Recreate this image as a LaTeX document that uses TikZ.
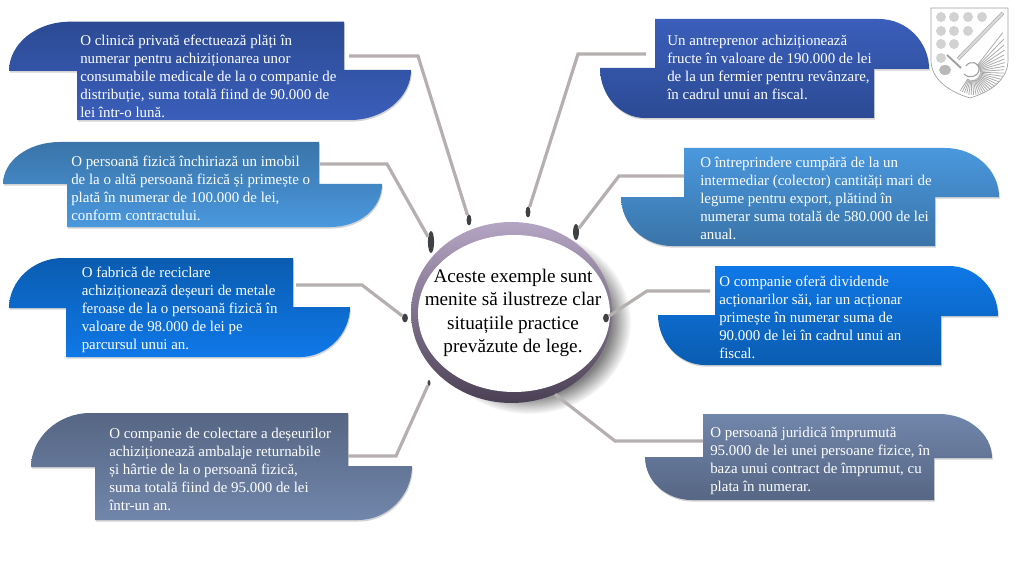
\documentclass[tikz,border=0pt]{standalone}
\usepackage{fontspec}
\setmainfont{Liberation Serif}
\usetikzlibrary{shapes.geometric,shadows,fadings}
\definecolor{darkA}{HTML}{2C4A94}
\definecolor{darkB}{HTML}{3A5EBA}
\definecolor{skyA}{HTML}{3A74A8}
\definecolor{skyB}{HTML}{4A98DE}
\definecolor{deepA}{HTML}{0A5CB0}
\definecolor{deepB}{HTML}{0F78E8}
\definecolor{slateA}{HTML}{566684}
\definecolor{slateB}{HTML}{7186AB}
\definecolor{linkgray}{HTML}{B6AFAF}
\definecolor{dotgray}{HTML}{3F4245}
\definecolor{ringA}{HTML}{B5A5C4}
\definecolor{ringB}{HTML}{4A4054}
\tikzset{
  callout/.style={drop shadow={shadow xshift=.6pt,shadow yshift=-1.2pt,opacity=.35}},
  boxtext/.style={anchor=north west,align=left,inner sep=0pt,text=white,font=\fontsize{11.2}{13.5}\selectfont},
  link/.style={draw=linkgray,line width=2.4pt,line join=miter},
  dotmark/.style={draw=none,fill=dotgray,ellipse,inner sep=0pt},
  crest/.style={draw=gray!75,line width=.5pt},
  feather/.style={draw=gray!65,line width=.6pt}
}
\begin{document}
\begin{tikzpicture}[x=.75pt,y=-.75pt]
\useasboundingbox (0,0) rectangle (1024,574);

\fill[black!50,path fading=circle with fuzzy edge 20 percent] (529,322) ellipse (102 and 92);
\node[ellipse,draw=none,top color=ringA,bottom color=ringB,minimum width=150.75pt,minimum height=135.75pt,inner sep=0pt] (main) at (511.5,312.5) {};
\node[ellipse,fill=white,minimum width=144pt,minimum height=117.75pt,inner sep=0pt] (mainface) at (514,313.5) {};
\node[align=center,inner sep=0pt,font=\fontsize{14.4}{17.7}\selectfont] (maintext) at (513,313) {Aceste exemple sunt\\menite să ilustreze clar\\situațiile practice\\prevăzute de lege.};

\path[callout,top color=darkA,bottom color=darkB] (9,71) .. controls (9,44) and (36,21.7) .. (70,21.7) -- (344,21.7) -- (344,70) -- (411,70) .. controls (411,97) and (384,120) .. (350,120) -- (77,120) -- (77,71) -- cycle;
\path[callout,top color=skyA,bottom color=skyB] (3,184) .. controls (3,161) and (28,142) .. (60,142) -- (319,142) -- (319,184) -- (382,184) .. controls (382,208) and (360,227) .. (330,227) -- (67,227) -- (67,184) -- cycle;
\path[callout,top color=deepA,bottom color=deepB] (9,308) .. controls (9,281) and (33,258) .. (63,258) -- (293,258) -- (293,307) -- (350,307) .. controls (350,334) and (327,357) .. (300,357) -- (66,357) -- (66,308) -- cycle;
\path[callout,top color=slateA,bottom color=slateB] (31,467) .. controls (31,438) and (58,413) .. (90,413) -- (348,413) -- (348,466) -- (412,466) .. controls (412,495) and (388,520) .. (358,520) -- (95,520) -- (95,467) -- cycle;
\path[callout,top color=darkB,bottom color=darkA] (655,19) -- (879,19) .. controls (907,19) and (929,42) .. (929,69) -- (874,69) -- (874,118) -- (645,118) .. controls (620,118) and (600,95) .. (600,68) -- (655,68) -- cycle;
\path[callout,top color=skyB,bottom color=skyA] (684,148) -- (945,148) .. controls (975,148) and (999,170) .. (999,197) -- (935,197) -- (935,246) -- (672,246) .. controls (644,246) and (621,224) .. (621,197) -- (684,197) -- cycle;
\path[callout,top color=deepB,bottom color=deepA] (715,266) -- (949,266) .. controls (976,266) and (998,289) .. (998,316) -- (941,316) -- (941,365) -- (705,365) .. controls (679,365) and (658,342) .. (658,315) -- (715,315) -- cycle;
\path[callout,top color=slateB,bottom color=slateA] (703,414) -- (939,414) .. controls (968,414) and (992,434) .. (992,458) -- (934,458) -- (934,500) -- (692,500) .. controls (666,500) and (645,481) .. (645,457) -- (703,457) -- cycle;

\node[boxtext] (t1) at (80,35) {O clinică privată efectuează plăți în\\numerar pentru achiziționarea unor\\consumabile medicale de la o companie de\\distribuție, suma totală fiind de 90.000 de\\lei într-o lună.};
\node[boxtext] (t2) at (71,156) {O persoană fizică închiriază un imobil\\de la o altă persoană fizică și primește o\\plată în numerar de 100.000 de lei,\\conform contractului.};
\node[boxtext] (t3) at (81.5,267) {O fabrică de reciclare\\achiziționează deșeuri de metale\\feroase de la o persoană fizică în\\valoare de 98.000 de lei pe\\parcursul unui an.};
\node[boxtext] (t4) at (109,428) {O companie de colectare a deșeurilor\\achiziționează ambalaje returnabile\\și hârtie de la o persoană fizică,\\suma totală fiind de 95.000 de lei\\într-un an.};
\node[boxtext] (t5) at (667,35) {Un antreprenor achiziționează\\fructe în valoare de 190.000 de lei\\de la un fermier pentru revânzare,\\în cadrul unui an fiscal.};
\node[boxtext] (t6) at (700,157) {O întreprindere cumpără de la un\\intermediar (colector) cantități mari de\\legume pentru export, plătind în\\numerar suma totală de 580.000 de lei\\anual.};
\node[boxtext] (t7) at (719,276) {O companie oferă dividende\\acționarilor săi, iar un acționar\\primește în numerar suma de\\90.000 de lei în cadrul unui an\\fiscal.};
\node[boxtext] (t8) at (710,426.5) {O persoană juridică împrumută\\95.000 de lei unei persoane fizice, în\\baza unui contract de împrumut, cu\\plata în numerar.};

\node[dotmark,minimum width=3.6pt,minimum height=8.2pt] (d1) at (469,220) {};
\node[dotmark,minimum width=4.6pt,minimum height=16.5pt] (d2) at (431,242) {};
\node[dotmark,minimum width=4.4pt,minimum height=6.6pt] (d3) at (405,318) {};
\node[dotmark,minimum width=2.2pt,minimum height=4.4pt] (d4) at (429,383) {};
\node[dotmark,minimum width=3.6pt,minimum height=8.2pt] (d5) at (528,212) {};
\node[dotmark,minimum width=4.4pt,minimum height=12pt] (d6) at (576,232) {};
\node[dotmark,minimum width=4.4pt,minimum height=6.6pt] (d7) at (606,318) {};

\coordinate (s1) at (349,56);
\coordinate (k1) at (418,56);
\coordinate (s2) at (320,164);
\coordinate (k2) at (387,164);
\coordinate (s3) at (296,285);
\coordinate (k3) at (362,285);
\coordinate (s4) at (348,456);
\coordinate (k4) at (396,456);
\coordinate (s5) at (646,54);
\coordinate (k5) at (578,54);
\coordinate (s6) at (684,176);
\coordinate (k6) at (619,176);
\coordinate (s7) at (710,291);
\coordinate (k7) at (647,291);
\coordinate (s8) at (703,441);
\coordinate (k8) at (615,441);

\draw[link] (s1) -- (k1) -- (d1);
\draw[link] (s2) -- (k2) -- (d2);
\draw[link] (s3) -- (k3) -- (d3);
\draw[link] (s4) -- (k4) -- (d4);
\draw[link] (s5) -- (k5) -- (d5);
\draw[link] (s6) -- (k6) -- (d6);
\draw[link] (s7) -- (k7) -- (d7);
\draw[link] (s8) -- (k8) -- (main.-62);

\draw[crest,fill=white] (931,8) -- (1008,8) -- (1008,60) .. controls (1008,80) and (990,92) .. (970,98) .. controls (950,92) and (931,80) .. (931,60) -- cycle;
\foreach \x/\y in {941/17,954/17,968/17,982/17,941/31,954/31,968/31,941/44,954/44,941/58}
  \fill[gray!35] (\x,\y) circle (5);
\foreach \a/\r in {-52/50,-46/46,-40/42,-34/39,-28/36,-22/35,-16/34,-10/33,-4/32,2/32,8/31,14/30,20/29,26/28,32/27,38/26,44/25,50/24,56/24,62/24,68/23,74/23,80/23,86/23,92/23,98/23,104/22,110/22,116/22,122/22}
  \draw[feather] ([shift={(\a:8)}]972,72) -- ([shift={(\a:\r)}]972,72);
\draw[crest,line width=.8pt] (966,66) .. controls (970,60) and (980,62) .. (979,70) .. controls (978,77) and (969,79) .. (964,74);
\draw[draw=gray!75,double=gray!30,double distance=1.8pt,line width=.4pt] (1003,13) -- (958,59);
\draw[crest,line width=1.4pt] (947,55) -- (961,68);
\fill[gray!55] (945,70) ellipse (6 and 5);
\end{tikzpicture}
\end{document}
